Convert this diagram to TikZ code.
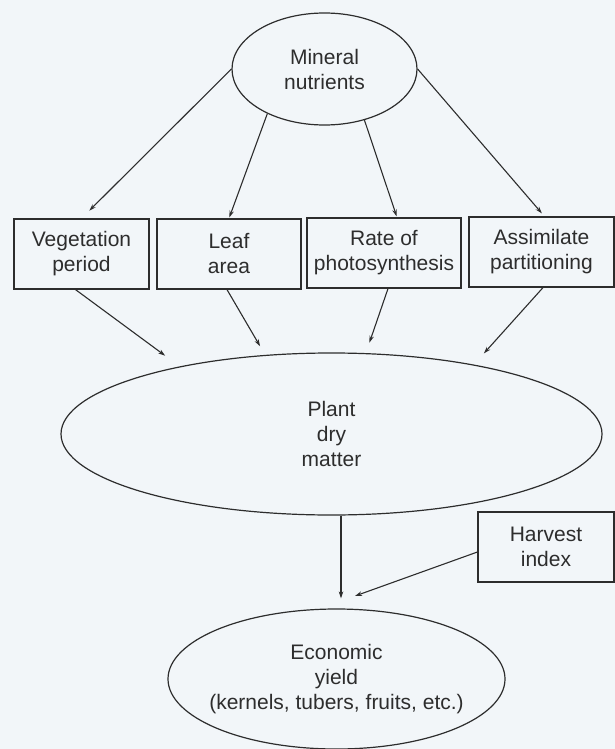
\documentclass[tikz,border=0pt]{standalone}
\usepackage{fontspec}
\setmainfont{Liberation Sans}
\usetikzlibrary{arrows.meta,shapes.geometric}
\definecolor{bg}{RGB}{242,246,249}
\definecolor{ink}{RGB}{45,45,45}
\begin{document}
\begin{tikzpicture}[x=1pt,y=-1pt,
  every node/.style={font=\fontsize{21}{25}\selectfont, text=ink, align=center, inner sep=0pt},
  oval/.style={ellipse, draw=ink, line width=1.2pt},
  box/.style={rectangle, draw=ink, line width=1.2pt, minimum height=70pt},
  arr/.style={draw=ink, line width=1.1pt, -{Stealth[length=7pt,width=4.5pt]}}]
\fill[bg] (0,0) rectangle (615,749);
\useasboundingbox (0,0) rectangle (615,749);

\node[oval, minimum width=185pt, minimum height=112pt] (mn) at (324.5,69) {Mineral\\nutrients};
\node[box, minimum width=135pt] (b1) at (81.5,254) {Vegetation\\period};
\node[box, minimum width=144pt] (b2) at (229,254) {Leaf\\area};
\node[box, minimum width=154pt] (b3) at (384,253) {Rate of\\photosynthesis};
\node[box, minimum width=145pt] (b4) at (541.5,252) {Assimilate\\partitioning};
\node[oval, minimum width=541pt, minimum height=162pt] (pd) at (331.5,434) {Plant\\dry\\matter};
\node[box, minimum width=136pt] (hi) at (546,547) {Harvest\\index};
\node[oval, inner xsep=-50pt, minimum width=337pt, minimum height=140pt] (ey) at (336.5,679) {Economic\\yield\\(kernels, tubers, fruits, etc.)};
\coordinate (hj) at (355,596);

\draw[arr, shorten >=11pt] (mn.west) -- (b1.north);
\draw[arr, shorten >=1pt] (mn.218) -- (b2.north);
\draw[arr, shorten >=1pt] (mn.308) -- ([xshift=13pt]b3.north);
\draw[arr, shorten >=4pt] (mn.east) -- ([xshift=3pt]b4.north);

\draw[arr, shorten >=18pt] ([xshift=-6pt]b1.south) -- (pd.156);
\draw[arr, shorten >=10pt] ([xshift=-2pt]b2.south) -- (pd.130);
\draw[arr, shorten >=11pt] ([xshift=4pt]b3.south) -- (pd.67);
\draw[arr, shorten >=15pt] ([xshift=1.5pt]b4.south) -- (pd.26);

\draw[arr, shorten >=10pt] ([xshift=9.5pt]pd.south) -- ([xshift=4.5pt]ey.north);
\draw[arr] ([yshift=-5pt]hi.west) -- (hj);
\end{tikzpicture}
\end{document}
